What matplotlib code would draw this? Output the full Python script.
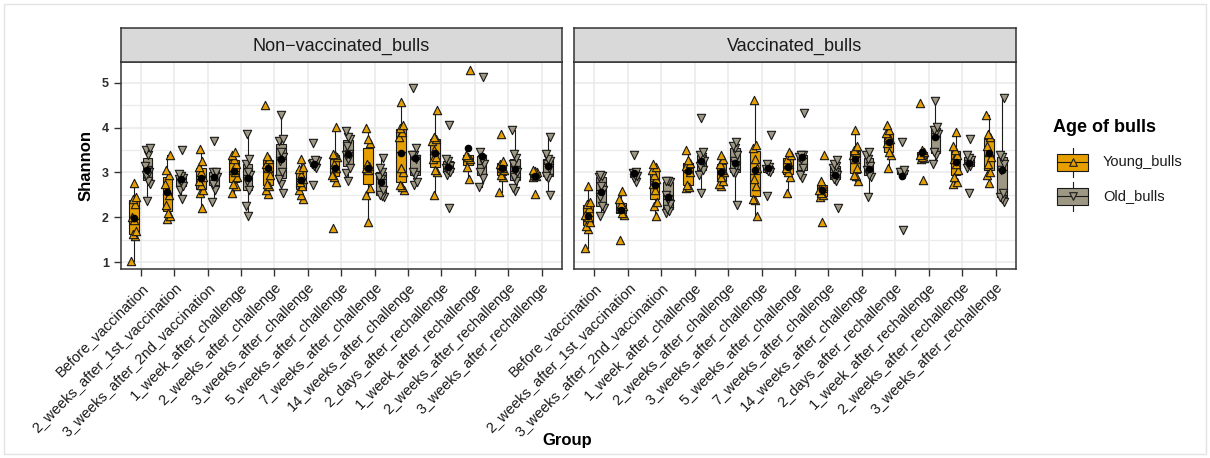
import matplotlib
matplotlib.use('Agg')
import matplotlib.pyplot as plt
import numpy as np
from matplotlib.patches import Rectangle
from matplotlib.lines import Line2D

plt.rcParams['font.family'] = ['Liberation Sans', 'DejaVu Sans']

# ---------------- data ----------------
groups = ["Before_vaccination", "2_weeks_after_1st_vaccination", "3_weeks_after_2nd_vaccination",
          "1_week_after_challenge", "2_weeks_after_challenge", "3_weeks_after_challenge",
          "5_weeks_after_challenge", "7_weeks_after_challenge", "14_weeks_after_challenge",
          "2_days_after_rechallenge", "1_week_after_rechallenge", "2_weeks_after_rechallenge",
          "3_weeks_after_rechallenge"]
panels = ["Non\u2212vaccinated_bulls", "Vaccinated_bulls"]
ages = ["Young_bulls", "Old_bulls"]

nonvac_young = [
    [1.03, 1.58, 1.62, 1.7, 1.95, 2.0, 2.3, 2.42, 2.45, 2.76],
    [1.97, 2.02, 2.1, 2.28, 2.5, 2.6, 2.75, 2.95, 3.05, 3.4],
    [2.2, 2.55, 2.6, 2.72, 2.8, 2.9, 3.0, 3.13, 3.25, 3.52],
    [2.55, 2.7, 2.75, 2.9, 3.0, 3.05, 3.2, 3.3, 3.38, 3.45],
    [2.53, 2.6, 2.7, 2.75, 2.95, 3.1, 3.2, 3.3, 3.37, 4.5],
    [2.4, 2.5, 2.62, 2.7, 2.78, 2.85, 2.95, 3.08, 3.12, 3.3],
    [1.77, 2.78, 2.9, 2.95, 3.1, 3.2, 3.35, 3.4, 3.42, 4.02],
    [1.9, 2.5, 2.65, 3.05, 3.1, 3.15, 3.2, 3.65, 3.75, 3.98],
    [2.62, 2.68, 2.72, 3.0, 3.1, 3.8, 3.9, 4.0, 4.05, 4.58],
    [2.5, 3.0, 3.05, 3.3, 3.35, 3.5, 3.7, 3.75, 3.8, 4.4],
    [2.85, 3.12, 3.3, 3.35, 3.4, 5.28],
    [2.57, 2.9, 2.95, 3.05, 3.1, 3.2, 3.25, 3.86],
    [2.53, 2.9, 2.92, 2.95, 3.0, 3.03, 3.05],
]
nonvac_old = [
    [2.37, 2.75, 2.8, 2.95, 3.0, 3.05, 3.15, 3.38, 3.5, 3.55],
    [2.42, 2.6, 2.7, 2.8, 2.85, 2.88, 2.92, 2.97, 3.49],
    [2.35, 2.6, 2.75, 2.9, 2.95, 3.0, 3.02, 3.7],
    [2.02, 2.25, 2.6, 2.8, 2.95, 3.0, 3.2, 3.3, 3.85],
    [2.55, 2.75, 2.85, 3.0, 3.25, 3.35, 3.45, 3.7, 3.75, 4.28],
    [2.72, 3.1, 3.15, 3.18, 3.2, 3.22, 3.25, 3.28, 3.65],
    [2.8, 2.98, 3.1, 3.3, 3.38, 3.42, 3.6, 3.75, 3.8, 3.92],
    [2.45, 2.47, 2.5, 2.6, 2.85, 2.9, 3.0, 3.1, 3.32],
    [2.72, 2.78, 2.95, 3.0, 3.3, 3.38, 3.4, 3.55, 4.88],
    [2.22, 2.95, 3.0, 3.05, 3.1, 3.15, 3.25, 3.3, 4.05],
    [2.68, 2.88, 3.0, 3.2, 3.3, 3.45, 5.12],
    [2.58, 2.65, 2.8, 2.9, 3.0, 3.05, 3.2, 3.32, 3.42, 3.95],
    [2.5, 2.88, 2.92, 3.1, 3.2, 3.25, 3.3, 3.42, 3.78],
]
vac_young = [
    [1.31, 1.75, 1.8, 1.9, 2.0, 2.05, 2.2, 2.3, 2.35, 2.71],
    [1.5, 2.05, 2.1, 2.2, 2.25, 2.3, 2.4, 2.58],
    [2.02, 2.25, 2.35, 2.6, 2.75, 2.85, 2.95, 3.05, 3.12, 3.2],
    [2.65, 2.68, 2.72, 3.0, 3.1, 3.15, 3.22, 3.28, 3.5],
    [2.7, 2.75, 2.8, 2.9, 3.0, 3.05, 3.2, 3.3, 3.4],
    [2.02, 2.38, 2.4, 2.7, 2.85, 3.1, 3.3, 3.55, 3.62, 4.61],
    [2.55, 2.9, 3.0, 3.1, 3.2, 3.3, 3.4, 3.45],
    [1.9, 2.45, 2.5, 2.55, 2.6, 2.7, 2.8, 3.38],
    [2.8, 2.92, 2.95, 3.1, 3.3, 3.4, 3.45, 3.5, 3.6, 3.95],
    [3.1, 3.38, 3.45, 3.65, 3.75, 3.8, 3.88, 3.95, 4.06],
    [2.83, 3.3, 3.32, 3.35, 3.4, 3.45, 3.5, 4.54],
    [2.75, 2.78, 2.9, 3.05, 3.2, 3.3, 3.4, 3.5, 3.6, 3.9],
    [2.76, 2.95, 3.0, 3.2, 3.35, 3.45, 3.6, 3.8, 3.85, 4.28],
]
vac_old = [
    [2.02, 2.22, 2.26, 2.45, 2.6, 2.7, 2.9, 2.93, 2.95],
    [2.78, 2.88, 2.92, 2.95, 2.98, 3.0, 3.38],
    [2.1, 2.15, 2.18, 2.3, 2.4, 2.5, 2.78, 2.8, 2.82],
    [2.55, 2.95, 3.05, 3.15, 3.25, 3.35, 3.4, 3.45, 4.22],
    [2.28, 2.98, 3.02, 3.15, 3.25, 3.4, 3.55, 3.6, 3.68],
    [2.47, 3.0, 3.03, 3.08, 3.12, 3.18, 3.84],
    [2.88, 2.95, 3.1, 3.3, 3.35, 3.38, 3.4, 4.32],
    [2.2, 2.8, 2.85, 2.95, 3.0, 3.1, 3.15, 3.2, 3.28],
    [2.46, 2.9, 2.95, 3.05, 3.15, 3.3, 3.4, 3.45],
    [1.72, 2.95, 2.97, 3.0, 3.02, 3.05, 3.68],
    [3.18, 3.38, 3.45, 3.85, 3.9, 3.95, 4.02, 4.6],
    [2.55, 3.1, 3.15, 3.2, 3.28, 3.32, 3.38, 3.75],
    [2.35, 2.4, 2.45, 2.55, 3.05, 3.2, 3.35, 3.4, 4.67],
]

# ---------------- style ----------------
YOUNG_C = '#E69F00'
OLD_C = '#9E9784'
W, H = 1210, 458

fig = plt.figure(figsize=(W / 100, H / 100), dpi=100)


def frect(x0, y0, x1, y1):
    return [x0 / W, 1 - y1 / H, (x1 - x0) / W, (y1 - y0) / H]


ax1 = fig.add_axes(frect(120.7, 62.3, 561.7, 269.3))
ax2 = fig.add_axes(frect(574.3, 62.3, 1015.7, 269.3))
st1 = fig.add_axes(frect(120.7, 28.3, 561.7, 62.3))
st2 = fig.add_axes(frect(574.3, 28.3, 1015.7, 62.3))

OFF = 0.2
BW = 0.29


def jitter(n, k):
    return np.array([((j * 0.618034 + k * 0.37) % 1.0 - 0.5) * 0.16 for j in range(n)])


def draw_panel(ax, young, old, show_y):
    pos = np.arange(len(groups))
    for yv in np.arange(1.0, 5.51, 0.5):
        ax.axhline(yv, color='#EBEBEB', lw=1.2 if yv % 1 == 0 else 0.9, zorder=0)
    for xv in pos:
        ax.axvline(xv, color='#EBEBEB', lw=1.2, zorder=0)
    for data, off, col, mk, k in [(young, -OFF, YOUNG_C, '^', 0), (old, OFF, OLD_C, 'v', 1)]:
        ax.boxplot(data, positions=pos + off, widths=BW, patch_artist=True,
                   showfliers=False, showcaps=False, whis=1.5, manage_ticks=False,
                   boxprops=dict(facecolor=col, edgecolor='#1a1a1a', lw=0.8),
                   whiskerprops=dict(color='#1a1a1a', lw=0.8),
                   medianprops=dict(color='#1a1a1a', lw=0.9), zorder=2)
        for i, vals in enumerate(data):
            vals = np.asarray(vals)
            xs = pos[i] + off + jitter(len(vals), i + k)
            ax.scatter(xs, vals, marker=mk, s=36, facecolor=col, edgecolor='#1a1a1a',
                       linewidths=0.8, zorder=3)
            ax.scatter([pos[i] + off], [vals.mean()], marker='o', s=20, color='black', zorder=4)
    ax.set_xlim(-0.6, len(groups) - 0.4)
    ax.set_ylim(0.844, 5.454)
    ax.set_yticks([1, 2, 3, 4, 5])
    ax.set_xticks(pos)
    ax.set_xticklabels(groups, rotation=45, ha='right', va='top', rotation_mode='anchor',
                       fontsize=10.5, color='#1a1a1a')
    ax.tick_params(axis='both', length=5, width=1.0, color='#333333')
    ax.tick_params(axis='x', pad=3)
    if show_y:
        ax.set_yticklabels(['1', '2', '3', '4', '5'], fontsize=9, fontweight='bold', color='#2b2b2b')
    else:
        ax.set_yticklabels([])
        ax.tick_params(axis='y', length=0)
    for sp in ax.spines.values():
        sp.set_color('#333333')
        sp.set_linewidth(1.1)


draw_panel(ax1, nonvac_young, nonvac_old, True)
draw_panel(ax2, vac_young, vac_old, False)
ax1.set_ylabel('Shannon', fontsize=12, fontweight='bold', labelpad=6)

for st, name in [(st1, panels[0]), (st2, panels[1])]:
    st.set_facecolor('#D9D9D9')
    st.set_xticks([])
    st.set_yticks([])
    for sp in st.spines.values():
        sp.set_color('#333333')
        sp.set_linewidth(1.1)
    st.text(0.5, 0.48, name, ha='center', va='center', fontsize=13, color='#1a1a1a',
            transform=st.transAxes)

fig.text(567 / W, 1 - 440 / H, 'Group', ha='center', va='center', fontsize=12, fontweight='bold')

# ---------------- legend & frame ----------------
lg = fig.add_axes([0, 0, 1, 1], facecolor='none')
lg.set_xlim(0, W)
lg.set_ylim(H, 0)
lg.axis('off')
lg.add_patch(Rectangle((4, 4), W - 8, H - 8, facecolor='none', edgecolor='#E3E3E3', lw=1.0))
lg.text(1053, 128, 'Age of bulls', ha='left', va='center', fontsize=13, fontweight='bold')
for cy, col, mk, lab in [(162, YOUNG_C, '^', ages[0]), (196, OLD_C, 'v', ages[1])]:
    lg.add_line(Line2D([1072.5, 1072.5], [cy - 14.5, cy + 14.5], color='#1a1a1a', lw=0.8))
    lg.add_patch(Rectangle((1057, cy - 8.5), 31, 17, facecolor=col, edgecolor='#1a1a1a', lw=0.8, zorder=2))
    lg.add_line(Line2D([1057, 1088], [cy, cy], color='#1a1a1a', lw=0.8, zorder=3))
    lg.scatter([1072.5], [cy], marker=mk, s=30, facecolor=col, edgecolor='#1a1a1a', linewidths=0.8, zorder=4)
    lg.text(1103, cy, lab, ha='left', va='center', fontsize=10.5, color='#1a1a1a')

fig.savefig('out.png', dpi=100)
